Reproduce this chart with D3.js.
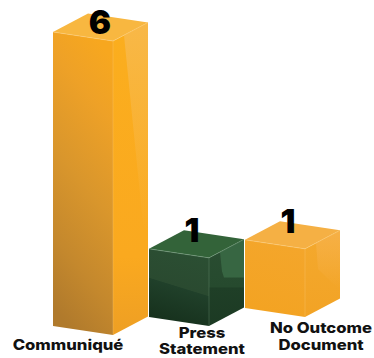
<!DOCTYPE html>
<html>
<head>
<meta charset="utf-8">
<script src="https://cdn.jsdelivr.net/npm/d3@7"></script>
<style>
html,body{margin:0;padding:0;background:#fff;}
svg{display:block;}
text{font-family:Inter,"DejaVu Sans",sans-serif;font-weight:800;fill:#111;text-anchor:middle;}
</style>
</head>
<body>
<div id="chart"></div>
<script>
const categories = ["Communiqué", "Press Statement", "No Outcome Document"];
const values = [6, 1, 1];
const labelLines = [["Communiqué"], ["Press", "Statement"], ["No Outcome", "Document"]];
const palette = ["amberTall", "green", "amber"];

const W = 374, H = 358;
const svg = d3.select("#chart").append("svg").attr("width", W).attr("height", H);

// Oblique projection: bars stand on a receding floor line.
const x = d3.scalePoint().domain(categories).range([53, 245]);
const floor = d3.scalePoint().domain(categories).range([326, 308]);
const height = d3.scaleLinear().domain([0, 6]).range([23, 294]);
const front = {dx: 60, dy: 9};
const side = {dx: 35, dy: -18.5};

const tones = {
  amberTall: {
    front: [[0, "#f7a71f"], [0.2, "#eea127"], [0.5, "#d9962c"], [0.78, "#c4882d"], [1, "#b07a2c"]],
    side: [[0, "#fbae1e"], [0.75, "#faa91f"], [1, "#ee9f24"]],
    glow: "#f8b848", top: "#f8b740", edge: "#fbcf80", glowDepth: 0.72, fade: 0
  },
  amber: {
    front: [[0, "#f4a62b"], [1, "#f3a322"]],
    side: [[0, "#f4a92e"], [1, "#f2a325"]],
    glow: "#f6b046", top: "#f5b044", edge: "#fbcf80", glowDepth: 0.85, fade: 0
  },
  green: {
    front: [[0, "#2b4f33"], [0.49, "#2a4a30"], [0.5, "#20402a"], [1, "#16301c"]],
    side: [[0, "#2a4d32"], [0.55, "#264a2e"], [0.56, "#1f3f27"], [1, "#1c3a23"]],
    glow: "#376642", top: "#336339", edge: "#7fa688", glowDepth: 0.56, fade: 1
  }
};

const defs = svg.append("defs");
Object.entries(tones).forEach(([name, t]) => {
  const addStops = (id, stops, x1, y1, x2, y2) => {
    const lg = defs.append("linearGradient").attr("id", id)
      .attr("x1", x1).attr("y1", y1).attr("x2", x2).attr("y2", y2);
    stops.forEach(([o, c]) => lg.append("stop").attr("offset", o).attr("stop-color", c));
    return lg;
  };
  addStops(`front-${name}`, t.front, 0.62, 0, 0.38, 1);
  addStops(`side-${name}`, t.side, 0, 0, 0, 1);
  const sheen = defs.append("linearGradient").attr("id", `sheen-${name}`)
    .attr("x1", 0).attr("y1", 0).attr("x2", 0).attr("y2", 1);
  sheen.append("stop").attr("offset", 0).attr("stop-color", t.glow).attr("stop-opacity", 1);
  sheen.append("stop").attr("offset", 1).attr("stop-color", t.glow).attr("stop-opacity", t.fade);
});

const pts = a => a.map(p => p.join(",")).join(" ");

const bars = categories.map((c, i) => ({c, v: values[i], tone: palette[i], lines: labelLines[i]}));

svg.selectAll("g.bar").data(bars).join("g").attr("class", "bar").each(function (d) {
  const s = d3.select(this);
  const t = tones[d.tone];
  const lx = x(d.c), by = floor(d.c), h = height(d.v);
  const fbl = [lx, by], fbr = [lx + front.dx, by + front.dy];
  const ftl = [lx, by - h], ftr = [lx + front.dx, by + front.dy - h];
  const sbr = [fbr[0] + side.dx, fbr[1] + side.dy], str = [ftr[0] + side.dx, ftr[1] + side.dy];
  const back = [ftl[0] + side.dx, ftl[1] + side.dy];

  s.append("polygon").attr("points", pts([ftl, ftr, fbr, fbl])).attr("fill", `url(#front-${d.tone})`);
  s.append("polygon").attr("points", pts([ftr, str, sbr, fbr])).attr("fill", `url(#side-${d.tone})`);
  // Lighter sheen across the outer part of the side face
  const depth = t.glowDepth * h;
  const sheen = [
    [ftr[0] + 11, ftr[1] - 5.8], str,
    [str[0], str[1] + depth],
    d.tone === "green" ? [ftr[0] + 15, str[1] + depth] : [ftr[0] + 30, str[1] + depth * 0.95],
    [ftr[0] + (d.tone === "amberTall" ? 19 : 13), ftr[1] + depth * 0.35]
  ];
  s.append("polygon").attr("points", pts(sheen)).attr("fill", `url(#sheen-${d.tone})`);
  s.append("polygon").attr("points", pts([ftl, back, str, ftr])).attr("fill", t.top);
  s.append("polyline").attr("points", pts([ftl, ftr, str])).attr("fill", "none")
    .attr("stroke", t.edge).attr("stroke-width", 0.7).attr("opacity", 0.8);
  s.append("line").attr("x1", ftr[0]).attr("y1", ftr[1]).attr("x2", fbr[0]).attr("y2", fbr[1])
    .attr("stroke", t.edge).attr("stroke-width", 0.6).attr("opacity", 0.5);

  // Value stands on the far half of the top face
  s.append("text").attr("x", back[0] + (d.v > 1 ? 12 : 8)).attr("y", back[1] + (d.v > 1 ? 20 : 12))
    .style("font-size", "33px").style("font-weight", 900).style("fill", "#000").text(d.v);
});

// Category captions, widened a little for a broad display look
const captionPos = [
  {cx: 68, y: [350]},
  {cx: 202, y: [338, 354]},
  {cx: 321, y: [333, 350]}
];
bars.forEach((d, i) => {
  d.lines.forEach((line, j) => {
    svg.append("text")
      .attr("transform", `translate(${captionPos[i].cx},${captionPos[i].y[j]}) scale(1.15,1)`)
      .style("font-size", "14.5px").text(line);
  });
});
</script>
</body>
</html>
